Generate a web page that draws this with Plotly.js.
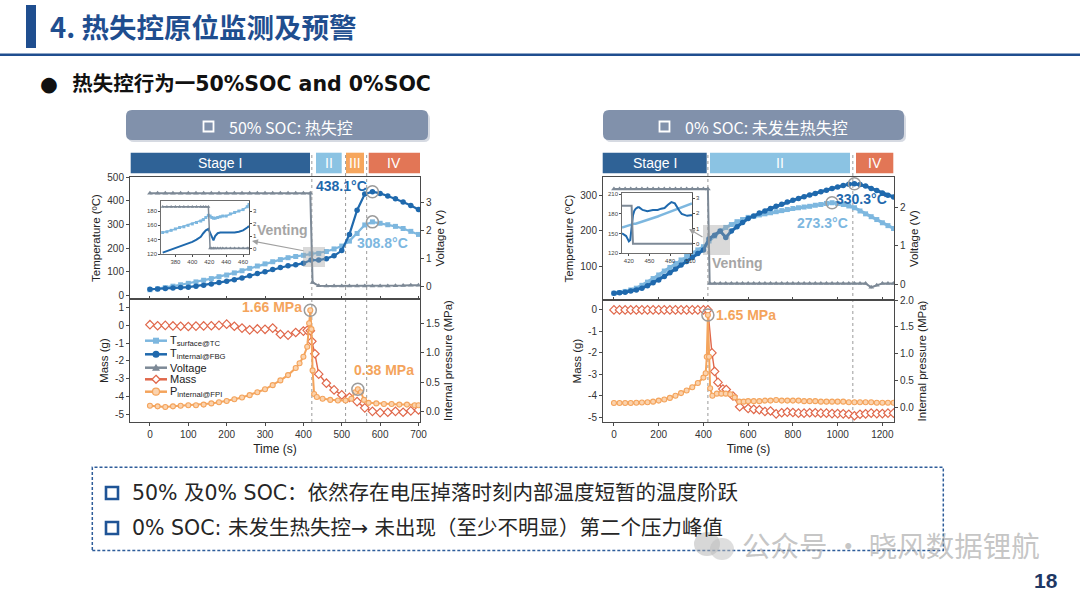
<!DOCTYPE html>
<html><head><meta charset="utf-8">
<script src="https://cdn.plot.ly/plotly-3.0.1.min.js"></script>
<style>html,body{margin:0;padding:0;background:#fff}#chart{width:1080px;height:591px}</style>
</head><body><div id="chart"></div>
<script>
// ===== Left chart: 50% SOC =====
const L_tT = [0,20,40,60,80,100,120,140,160,180,200,220,240,260,280,300,320,340,360,380,400,420,440,460,480,500,520,540,560,580,600,620,640,660,680,700];
const L_Ts = [25,29,34,40,46,52,58,65,72,80,87,96,105,115,125,134,143,152,160,165,170,176,178,186,197,209,230,262,298,311,305,299,292,283,271,258];
const L_Ti = [27,28,30,32,34,36,40,44,49,55,61,67,75,84,93,101,110,119,126,130,137,150,150,156,168,190,258,360,428,438,431,420,408,395,380,363];
const L_tV = [0,20,40,60,80,100,120,140,160,180,200,220,240,260,280,300,320,340,360,380,400,418,424,440,460,480,500,520,540,560,580,600,620,640,660,680,700];
const L_V  = [3.32,3.32,3.32,3.32,3.32,3.32,3.32,3.32,3.32,3.32,3.32,3.32,3.32,3.32,3.32,3.32,3.32,3.32,3.32,3.32,3.32,3.32,0.15,0.03,0.02,0.02,0.02,0.02,0.02,0.02,0.02,0.02,0.02,0.03,0.04,0.05,0.05];
const L_tM = [0,20,40,60,80,100,120,140,160,180,200,220,240,260,280,300,320,340,360,380,400,410,418,422,430,440,460,480,500,520,540,560,580,600,620,640,660,680,700];
const L_M  = [0.04,-0.02,0,-0.03,-0.05,-0.06,-0.04,-0.03,-0.02,0,0.07,-0.05,-0.15,-0.25,-0.2,-0.22,-0.15,-0.5,-0.55,-0.4,-0.32,-0.28,-0.3,-0.9,-1.6,-2.75,-3.26,-3.64,-3.92,-4.06,-4.3,-4.65,-4.85,-4.92,-4.9,-4.85,-4.9,-4.82,-4.77];
const L_tP = [0,20,40,60,80,100,120,140,160,180,200,220,240,260,280,300,320,340,360,380,390,400,410,415,418,421,424,428,435,450,470,490,510,525,535,542,550,558,570,590,610,630,650,670,690,700];
const L_P  = [0.10,0.09,0.08,0.09,0.10,0.11,0.11,0.12,0.14,0.16,0.18,0.21,0.24,0.28,0.33,0.38,0.45,0.53,0.62,0.74,0.82,0.93,1.10,1.50,1.72,1.40,0.70,0.30,0.25,0.22,0.20,0.19,0.19,0.22,0.33,0.38,0.33,0.20,0.15,0.14,0.13,0.13,0.12,0.12,0.11,0.11];
// left inset (zoom around venting)
const LI_t  = [365,370,375,380,385,390,395,400,405,410,413,416,419,421,423,425,427,430,433,436,440,445,450,455,460,465,467];
const LI_Ti = [122,124,127,129,131,133,135,137,140,144,149,153,155,150,143,139,145,149,150,150,149,150,150,151,153,157,159];
const LI_Ts = [150,151,153,155,157,158,160,162,164,166,168,171,174,173,171,170,170,171,172,173,173,176,178,180,182,186,189];
const LI_V  = [3.34,3.34,3.34,3.34,3.34,3.34,3.34,3.34,3.34,3.34,3.34,3.34,3.34,0.05,0.05,0.05,0.05,0.05,0.05,0.05,0.05,0.05,0.05,0.05,0.05,0.05,0.05];
const L_stageEdges = [422,510,565];

// ===== Right chart: 0% SOC =====
const R_tT = [0,25,50,75,100,125,150,175,200,225,250,275,300,325,350,375,400,425,450,475,500,525,550,575,600,625,650,675,700,725,750,775,800,825,850,875,900,925,950,975,1000,1025,1050,1075,1100,1125,1150,1175,1200,1225,1250];
const R_Ti = [26,27,29,32,35,40,47,55,63,73,83,94,105,115,126,137,147,178,188,200,182,200,212,224,235,242,250,256,263,269,275,281,286,291,296,301,305,310,314,319,323,327,331,332,330,326,319,313,306,300,295];
const R_Ts = [26,28,31,35,40,48,57,67,77,88,98,109,119,129,138,147,156,172,186,199,210,218,226,232,238,241,245,248,251,254,257,260,263,265,267,269,272,274,277,279,277,274,270,265,256,248,240,232,223,215,207];
const R_tV = [0,25,50,75,100,125,150,175,200,225,250,275,300,325,350,375,400,420,428,450,475,500,525,550,575,600,625,650,675,700,725,750,775,800,825,850,875,900,925,950,975,1000,1025,1050,1075,1100,1125,1150,1175,1200,1225,1250];
const R_V  = [2.47,2.47,2.47,2.47,2.47,2.47,2.47,2.47,2.47,2.47,2.47,2.47,2.47,2.47,2.47,2.47,2.47,2.47,0.02,0.02,0.02,0.02,0.02,0.02,0.02,0.02,0.02,0.02,0.02,0.02,0.02,0.02,0.02,0.02,0.02,0.02,0.02,0.02,0.02,0.02,0.02,0.02,0.02,0.02,0.02,0.02,0.02,-0.08,-0.03,0.02,0.02,0.02];
const R_tM = [0,25,50,75,100,125,150,175,200,225,250,275,300,325,350,375,400,420,438,450,465,487,502,532,562,600,625,650,675,700,725,750,775,800,825,850,875,900,925,950,975,1000,1025,1050,1075,1100,1125,1150,1175,1200,1225,1250];
const R_M  = [0,0,0,0,0,0,0,0,0,0,0,0,0,0,0,0,0,0,-2.0,-2.86,-3.37,-3.68,-3.7,-4.0,-4.5,-4.58,-4.62,-4.64,-4.72,-4.7,-4.83,-4.78,-4.75,-4.77,-4.8,-4.8,-4.78,-4.78,-4.8,-4.8,-4.82,-4.82,-4.83,-4.85,-4.92,-4.85,-4.83,-4.8,-4.82,-4.82,-4.8,-4.8];
const R_tP = [0,25,50,75,100,125,150,175,200,225,250,275,300,325,350,375,400,410,415,420,425,430,440,460,480,500,520,540,560,580,600,625,650,675,700,725,750,775,800,825,850,875,900,925,950,975,1000,1025,1050,1075,1100,1125,1150,1175,1200,1225,1250];
const R_P  = [0.075,0.075,0.075,0.075,0.08,0.085,0.09,0.10,0.12,0.14,0.17,0.21,0.26,0.31,0.37,0.45,0.55,0.63,0.94,1.72,0.94,0.35,0.21,0.25,0.25,0.25,0.24,0.18,0.10,0.10,0.11,0.11,0.11,0.12,0.12,0.13,0.12,0.12,0.12,0.12,0.11,0.11,0.11,0.10,0.10,0.10,0.10,0.10,0.09,0.09,0.09,0.09,0.09,0.08,0.08,0.08,0.08];
// right inset
const RI_t  = [410,413,416,418,420,422,424,426,428,430,433,435,440,447,455,462,467,472,477,482,487,490,494,497,501,505,510,512];
const RI_Ti = [150,148,146,142,138,140,165,178,185,188,190,190,186,184,186,186,188,189,194,198,196,190,184,180,178,177,178,178];
const RI_Ts = [159,160,161,162,163,163,164,164,165,165,166,166,168,170,173,176,178,180,182,183,185,187,189,190,191,193,195,196];
const RI_V  = [2.5,2.5,2.5,2.5,2.5,2.5,2.5,0,0,0,0,0,0,0,0,0,0,0,0,0,0,0,0,0,0,0,0,0];
const R_stageEdges = [420,1068];

// tick labels
const massTicksL = [-5,-4,-3,-2,-1,0,1];
const massTicksR = [-5,-4,-3,-2,-1,0];

// ===== helpers =====
const P = x => x/1080, Q = y => 1 - y/591;
const F = 'Arial, "Liberation Sans", sans-serif';
const CJK = '"Noto Sans CJK SC", sans-serif';
const MIX = '"DejaVu Sans", "Noto Sans CJK SC", sans-serif';
const C = {ts:'#7DB7DF', ti:'#1F69AD', v:'#7D8996', m:'#E0684B', p:'#F4A45C', ring:'#9B9B9B'};
function argmax(xs, ys, from){ let bi=-1; for(let i=0;i<ys.length;i++){ if(from!==undefined && xs[i]<from) continue; if(bi<0||ys[i]>ys[bi]) bi=i;} return {x:xs[bi], y:ys[bi]}; }
const TF = {family:F, size:11.5, color:'#222'};
const AX = {showgrid:false, zeroline:false, showline:true, linecolor:'#4a4a4a', linewidth:1, mirror:true,
  ticks:'outside', ticklen:3, tickwidth:1, tickcolor:'#4a4a4a', tickfont:{family:F,size:10,color:'#333'}};
const IAX = Object.assign({}, AX, {linewidth:0.8, ticklen:2, tickfont:{family:F,size:6,color:'#444'}});
const mt = arr => arr.map(v => String(v));

const traces = [];
function ring(pk, xa, ya){ traces.push({x:[pk.x], y:[pk.y], xaxis:xa, yaxis:ya, mode:'markers',
  marker:{symbol:'circle-open', size:12, color:C.ring, line:{width:1.5, color:C.ring}}}); }

// left top
traces.push({x:L_tT, y:L_Ts, xaxis:'x', yaxis:'y', mode:'lines+markers', line:{color:C.ts,width:2.2}, marker:{symbol:'square',size:5,color:C.ts}});
traces.push({x:L_tT, y:L_Ti, xaxis:'x', yaxis:'y', mode:'lines+markers', line:{color:C.ti,width:2.2}, marker:{symbol:'circle',size:5.5,color:C.ti}});
ring(argmax(L_tT,L_Ti),'x','y'); ring(argmax(L_tT,L_Ts),'x','y');
traces.push({x:L_tV, y:L_V, xaxis:'x', yaxis:'y2', mode:'lines+markers', line:{color:C.v,width:2}, marker:{symbol:'triangle-up',size:5,color:C.v}});
// left bottom
traces.push({x:L_tM, y:L_M, xaxis:'x2', yaxis:'y3', mode:'lines+markers', line:{color:C.m,width:1.4}, marker:{symbol:'diamond',size:6.5,color:'#fff',line:{color:C.m,width:1.2}}});
traces.push({x:L_tP, y:L_P, xaxis:'x2', yaxis:'y4', mode:'lines+markers', line:{color:C.p,width:2}, marker:{symbol:'circle',size:5,color:'#FBD3AE',line:{color:C.p,width:1.1}}});
ring(argmax(L_tP,L_P),'x2','y4'); ring(argmax(L_tP,L_P,500),'x2','y4');
// right top
traces.push({x:R_tT, y:R_Ts, xaxis:'x3', yaxis:'y5', mode:'lines+markers', line:{color:C.ts,width:3}, marker:{symbol:'square',size:5,color:C.ts}});
traces.push({x:R_tT, y:R_Ti, xaxis:'x3', yaxis:'y5', mode:'lines+markers', line:{color:C.ti,width:3}, marker:{symbol:'circle',size:5.5,color:C.ti}});
ring(argmax(R_tT,R_Ti),'x3','y5'); ring(argmax(R_tT,R_Ts),'x3','y5');
traces.push({x:R_tV, y:R_V, xaxis:'x3', yaxis:'y6', mode:'lines+markers', line:{color:C.v,width:2}, marker:{symbol:'triangle-up',size:5,color:C.v}});
// right bottom
traces.push({x:R_tM, y:R_M, xaxis:'x4', yaxis:'y7', mode:'lines+markers', line:{color:C.m,width:1.4}, marker:{symbol:'diamond',size:6.5,color:'#fff',line:{color:C.m,width:1.2}}});
traces.push({x:R_tP, y:R_P, xaxis:'x4', yaxis:'y8', mode:'lines+markers', line:{color:C.p,width:2}, marker:{symbol:'circle',size:5,color:'#FBD3AE',line:{color:C.p,width:1.1}}});
ring(argmax(R_tP,R_P),'x4','y8');
// insets
traces.push({x:LI_t, y:LI_Ts, xaxis:'x5', yaxis:'y9', mode:'lines+markers', line:{color:C.ts,width:1.5}, marker:{symbol:'square',size:3,color:C.ts}});
traces.push({x:LI_t, y:LI_Ti, xaxis:'x5', yaxis:'y9', mode:'lines', line:{color:C.ti,width:2}});
traces.push({x:LI_t, y:LI_V, xaxis:'x5', yaxis:'y10', mode:'lines+markers', line:{color:C.v,width:1.5}, marker:{symbol:'triangle-up',size:3.5,color:C.v}});
traces.push({x:RI_t, y:RI_Ts, xaxis:'x6', yaxis:'y11', mode:'lines', line:{color:C.ts,width:2.5}});
traces.push({x:RI_t, y:RI_Ti, xaxis:'x6', yaxis:'y11', mode:'lines', line:{color:C.ti,width:2}});
traces.push({x:RI_t, y:RI_V, xaxis:'x6', yaxis:'y12', mode:'lines', line:{color:C.v,width:2}});
traces.forEach(t => { t.hoverinfo='skip'; t.showlegend=false; });

const ov = {mirror:false};
const layout = {
  width:1080, height:591, margin:{l:0,r:0,t:0,b:0}, paper_bgcolor:'#fff', plot_bgcolor:'#fff', showlegend:false,
  font:{family:F},
  xaxis: Object.assign({}, AX, {domain:[P(130),P(420)], range:[-52,704], anchor:'y', tick0:0, dtick:100, ticks:'inside', showticklabels:false}),
  yaxis: Object.assign({}, AX, {domain:[Q(299),Q(177)], range:[-14,500], anchor:'x', tickvals:[0,100,200,300,400,500], title:{text:'Temperature (ºC)', font:TF, standoff:4}}),
  yaxis2: Object.assign({}, AX, ov, {overlaying:'y', side:'right', anchor:'x', range:[-0.44,3.9], tickvals:[0,1,2,3], title:{text:'Voltage (V)', font:TF, standoff:4}}),
  xaxis2: Object.assign({}, AX, {domain:[P(130),P(420)], range:[-52,704], anchor:'y3', tick0:0, dtick:100, title:{text:'Time (s)', font:{family:F,size:12,color:'#222'}, standoff:5}}),
  yaxis3: Object.assign({}, AX, {domain:[Q(422),Q(299)], range:[-5.45,1.49], anchor:'x2', tickvals:massTicksL, ticktext:mt(massTicksL), title:{text:'Mass (g)', font:TF, standoff:4}}),
  yaxis4: Object.assign({}, AX, ov, {overlaying:'y3', side:'right', anchor:'x2', range:[-0.175,1.91], tickvals:[0,0.5,1,1.5], tickformat:'.1f', title:{text:'Internal pressure (MPa)', font:TF, standoff:4}}),
  xaxis3: Object.assign({}, AX, {domain:[P(603),P(894)], range:[-49,1252], anchor:'y5', tick0:0, dtick:200, ticks:'inside', showticklabels:false}),
  yaxis5: Object.assign({}, AX, {domain:[Q(300),Q(177)], range:[7,351], anchor:'x3', tickvals:[100,200,300], title:{text:'Temperature (ºC)', font:TF, standoff:4}}),
  yaxis6: Object.assign({}, AX, ov, {overlaying:'y5', side:'right', anchor:'x3', range:[-0.41,2.78], tickvals:[0,1,2], title:{text:'Voltage (V)', font:TF, standoff:4}}),
  xaxis4: Object.assign({}, AX, {domain:[P(603),P(894)], range:[-49,1252], anchor:'y7', tick0:0, dtick:200, title:{text:'Time (s)', font:{family:F,size:12,color:'#222'}, standoff:5}}),
  yaxis7: Object.assign({}, AX, {domain:[Q(422),Q(300)], range:[-5.21,0.46], anchor:'x4', tickvals:massTicksR, ticktext:mt(massTicksR), title:{text:'Mass (g)', font:TF, standoff:4}}),
  yaxis8: Object.assign({}, AX, ov, {overlaying:'y7', side:'right', anchor:'x4', range:[-0.28,2.0], tickvals:[0,0.5,1,1.5,2], tickformat:'.1f', title:{text:'Internal pressure (MPa)', font:TF, standoff:4}}),
  xaxis5: Object.assign({}, IAX, {domain:[P(161),P(249)], range:[363,467], anchor:'y9', tickvals:[380,400,420,440,460]}),
  yaxis9: Object.assign({}, IAX, {domain:[Q(254),Q(201)], range:[120,194], anchor:'x5', tickvals:[120,140,160,180]}),
  yaxis10: Object.assign({}, IAX, ov, {overlaying:'y9', side:'right', anchor:'x5', range:[-0.4,3.8], tickvals:[0,1,2,3]}),
  xaxis6: Object.assign({}, IAX, {domain:[P(622),P(692)], range:[410,512], anchor:'y11', tickvals:[420,450,480,510]}),
  yaxis11: Object.assign({}, IAX, {domain:[Q(253),Q(193)], range:[120,212], anchor:'x6', tickvals:[120,150,180,210]}),
  yaxis12: Object.assign({}, IAX, ov, {overlaying:'y11', side:'right', anchor:'x6', range:[-0.61,3.33], tickvals:[0,1,2,3]}),
};

// ===== shapes =====
const shapes = [];
function rect(x0,y0,x1,y1,fill,line,extra){ shapes.push(Object.assign({type:'rect', xref:'paper', yref:'paper', x0:P(x0), x1:P(x1), y0:Q(y1), y1:Q(y0), fillcolor:fill, line:line||{width:0}}, extra||{})); }
function rr(x0,y0,x1,y1,r){ const rx=r/1080, ry=r/591; const a=P(x0), b=P(x1), c=Q(y0), d=Q(y1);
  return `M ${a+rx},${c} L ${b-rx},${c} Q ${b},${c} ${b},${c-ry} L ${b},${d+ry} Q ${b},${d} ${b-rx},${d} L ${a+rx},${d} Q ${a},${d} ${a},${d+ry} L ${a},${c-ry} Q ${a},${c} ${a+rx},${c} Z`; }
// title bar & underline
rect(26,5,36,48,'#1F4E8F');
rect(0,53.5,1080,56,'#1F4E8F');
// header boxes
shapes.push({type:'path', xref:'paper', yref:'paper', path:rr(128,113,430,142,6), fillcolor:'#D6DAE2', line:{width:0}});
shapes.push({type:'path', xref:'paper', yref:'paper', path:rr(126,110,428,140,6), fillcolor:'#8191AB', line:{width:0}});
shapes.push({type:'path', xref:'paper', yref:'paper', path:rr(605,113,906,142,6), fillcolor:'#D6DAE2', line:{width:0}});
shapes.push({type:'path', xref:'paper', yref:'paper', path:rr(603,110,904,140,6), fillcolor:'#8191AB', line:{width:0}});
rect(203.5,121.5,213.5,131.5,'rgba(0,0,0,0)',{color:'#fff',width:1.8});
rect(659.5,121.5,669.5,131.5,'rgba(0,0,0,0)',{color:'#fff',width:1.8});
// stage bars
const SC = {I:'#2F6296', II:'#8BC3E3', III:'#F6A65D', IV:'#E27656'};
rect(130.7,152.7,310,173.3,SC.I); rect(316,152.7,341.7,173.3,SC.II); rect(346,152.7,364,173.3,SC.III); rect(368.7,152.7,420,173.3,SC.IV);
rect(602.7,152.7,706.7,173.3,SC.I); rect(710,152.7,850,173.3,SC.II); rect(856,152.7,893.3,173.3,SC.IV);
// stage boundary lines (data x)
L_stageEdges.forEach(t => shapes.push({type:'line', xref:'x', yref:'paper', x0:t, x1:t, y0:Q(422), y1:Q(152), layer:'below', line:{color:'#9a9a9a', width:1, dash:'dot'}}));
R_stageEdges.forEach(t => shapes.push({type:'line', xref:'x3', yref:'paper', x0:t, x1:t, y0:Q(422), y1:Q(152), layer:'below', line:{color:'#9a9a9a', width:1, dash:'dot'}}));
// venting highlights
rect(303,247,325,267,'rgba(160,160,160,0.4)');
rect(703,225,730,255,'rgba(160,160,160,0.4)');
// manual legend
const legY = [340.7,354.3,367.7,379.3,391.7];
const legC = [C.ts, C.ti, C.v, C.m, C.p];
legY.forEach((y,i) => shapes.push({type:'line', xref:'paper', yref:'paper', x0:P(145), x1:P(167), y0:Q(y), y1:Q(y), line:{color:legC[i], width:2.5}}));
rect(153,legY[0]-3,159,legY[0]+3,C.ts);
shapes.push({type:'circle', xref:'paper', yref:'paper', x0:P(152.5), x1:P(159.5), y0:Q(legY[1]+3.5), y1:Q(legY[1]-3.5), fillcolor:C.ti, line:{width:0}});
shapes.push({type:'path', xref:'paper', yref:'paper', path:`M ${P(152)},${Q(legY[2]+3)} L ${P(160)},${Q(legY[2]+3)} L ${P(156)},${Q(legY[2]-4)} Z`, fillcolor:C.v, line:{width:0}});
shapes.push({type:'path', xref:'paper', yref:'paper', path:`M ${P(156)},${Q(legY[3]-4)} L ${P(160)},${Q(legY[3])} L ${P(156)},${Q(legY[3]+4)} L ${P(152)},${Q(legY[3])} Z`, fillcolor:'#fff', line:{color:C.m,width:1.3}});
shapes.push({type:'circle', xref:'paper', yref:'paper', x0:P(152.5), x1:P(159.5), y0:Q(legY[4]+3.5), y1:Q(legY[4]-3.5), fillcolor:'#FBD3AE', line:{color:C.p,width:1.2}});
// bottom dashed box
rect(92.3,467.3,943.3,550.5,'rgba(0,0,0,0)',{color:'#2E5D9A',width:1.5,dash:'3px,2px'});
rect(106,487,118,499,'rgba(0,0,0,0)',{color:'#1F5496',width:2.6});
rect(106,522,118,534,'rgba(0,0,0,0)',{color:'#1F5496',width:2.6});
// watermark icon
shapes.push({type:'circle', xref:'paper', yref:'paper', x0:P(694), x1:P(720), y0:Q(556), y1:Q(532), fillcolor:'rgba(175,175,175,0.5)', line:{width:0}});
shapes.push({type:'circle', xref:'paper', yref:'paper', x0:P(710), x1:P(734), y0:Q(560), y1:Q(538), fillcolor:'rgba(190,190,190,0.5)', line:{width:0}});
layout.shapes = shapes;

// ===== annotations =====
const ann = [];
function txt(x,y,text,font,xa){ ann.push({xref:'paper', yref:'paper', x:P(x), y:Q(y), text, showarrow:false, xanchor:xa||'center', yanchor:'middle', font}); }
txt(48,26,'<b>4. 热失控原位监测及预警</b>',{family:CJK,size:27.5,color:'#1F4E8F'},'left');
txt(38,84,'<b>●  热失控行为一50%SOC and 0%SOC</b>',{family:MIX,size:20.5,color:'#111'},'left');
txt(227,126.5,'50% SOC: 热失控',{family:CJK,size:16,color:'#fff'},'left');
txt(683,126.5,'0% SOC: 未发生热失控',{family:CJK,size:16,color:'#fff'},'left');
const sf = {family:F,size:14,color:'#fff'};
txt(220,163,'Stage I',sf); txt(329,163,'II',sf); txt(355,163,'III',sf); txt(394,163,'IV',sf);
txt(654.7,163,'Stage I',sf); txt(780,163,'II',sf); txt(874.6,163,'IV',sf);
const bf = (c)=>({family:F,size:14,color:c});
txt(341,186,'<b>438.1°C</b>',bf(C.ti)); txt(382,243,'<b>308.8°C</b>',bf(C.ts));
txt(282,230,'<b>Venting</b>',bf('#A5A5A5'));
txt(271.5,307,'<b>1.66 MPa</b>',bf(C.p)); txt(384,370,'<b>0.38 MPa</b>',bf(C.p));
txt(861,199,'<b>330.3°C</b>',bf(C.ti)); txt(822.5,223,'<b>273.3°C</b>',bf(C.ts));
txt(737,263,'<b>Venting</b>',bf('#A5A5A5'));
txt(746,315,'<b>1.65 MPa</b>',bf(C.p));
// legend labels
const lf = {family:F,size:11,color:'#222'};
const legT = ['T<sub>surface@TC</sub>','T<sub>internal@FBG</sub>','Voltage','Mass','P<sub>internal@FPI</sub>'];
legT.forEach((t,i)=>txt(168,legY[i],t,lf,'left'));
// arrows
ann.push({xref:'paper', yref:'paper', x:P(252), y:Q(241), axref:'paper', ayref:'paper', ax:P(305), ay:Q(251), text:'', showarrow:true, arrowhead:2, arrowsize:1, arrowwidth:1.2, arrowcolor:'#A0A0A0'});
ann.push({xref:'paper', yref:'paper', x:P(689), y:Q(229), axref:'paper', ayref:'paper', ax:P(704), ay:Q(238), text:'', showarrow:true, arrowhead:2, arrowsize:1, arrowwidth:1.2, arrowcolor:'#A0A0A0'});
// bottom text
const tf = {family:MIX,size:20.5,color:'#262626'};
txt(130,493,'50% 及0% SOC：依然存在电压掉落时刻内部温度短暂的温度阶跃',tf,'left');
txt(130,528,'0% SOC: 未发生热失控→ 未出现（至少不明显）第二个压力峰值',tf,'left');
txt(740,544,'公众号 · 晓风数据锂航',{family:CJK,size:28.5,color:'rgba(160,160,160,0.6)'},'left');
txt(1046,580,'<b>18</b>',{family:'"Liberation Sans Narrow", Arial, sans-serif',size:21,color:'#1F3864'});
layout.annotations = ann;

Plotly.newPlot('chart', traces, layout, {staticPlot:true, displayModeBar:false});
</script></body></html>
